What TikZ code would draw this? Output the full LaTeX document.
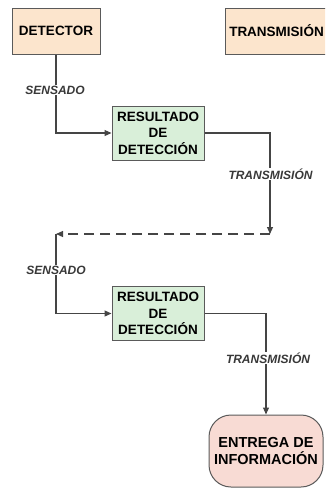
\documentclass[tikz,border=0pt]{standalone}
\usepackage{fontspec}
\setmainfont{Liberation Sans}
\usetikzlibrary{arrows.meta}
\definecolor{peach}{HTML}{FCE5CD}
\definecolor{resgreen}{HTML}{D9EFD9}
\definecolor{pinkish}{HTML}{F8DBD4}
\definecolor{boxline}{HTML}{5A5A5A}
\definecolor{flowline}{HTML}{454545}
\definecolor{labelgray}{HTML}{383838}
\tikzset{
  topbox/.style={draw=boxline, fill=peach, line width=1pt, minimum height=46pt,
    font=\bfseries\fontsize{13.5}{16}\selectfont},
  resbox/.style={draw=boxline, fill=resgreen, line width=1pt, minimum width=92pt,
    minimum height=54pt, align=center, inner sep=2pt,
    font=\bfseries\fontsize{13.5}{16.5}\selectfont},
  entregabox/.style={draw=boxline, fill=pinkish, line width=1pt, rounded corners=22pt,
    minimum width=114pt, minimum height=72pt, align=center,
    font=\bfseries\fontsize{14.5}{16.5}\selectfont},
  flow/.style={draw=flowline, line width=1.1pt, -{Triangle[length=7pt,width=6pt]}},
  lbl/.style={fill=white, text=labelgray, inner sep=1pt,
    font=\bfseries\itshape\fontsize{12}{14}\selectfont}
}
\begin{document}
\begin{tikzpicture}[x=1pt, y=-1pt]
      \path[use as bounding box, clip] (0,0) rectangle (325,490);

      \node[topbox, minimum width=88pt] (detector) at (56,31) {DETECTOR};
      \node[topbox, minimum width=101pt] (transm) at (276.5,31) {TRANSMISIÓN};

      \node[resbox] (res1) at (158,133) {RESULTADO\\DE\\DETECCIÓN};
      \node[resbox] (res2) at (158,313.5) {RESULTADO\\DE\\DETECCIÓN};
      \node[entregabox] (entrega) at (266,451) {ENTREGA DE\\INFORMACIÓN};

      \coordinate (turn) at (270,234);
      \coordinate (back) at (56,234);

      \draw[flow] (detector.south) |- (res1.west);
      \draw[flow] (res1.east) -| (turn);
      \draw[flow, dash pattern=on 10pt off 6pt] (turn) -- (back);
      \draw[flow] (back) |- (res2.west);
      \draw[flow] (res2.east) -| (entrega.north);

      \node[lbl] (sens1) at (55,90) {SENSADO};
      \node[lbl] (tran1) at (270.5,174) {TRANSMISIÓN};
      \node[lbl] (sens2) at (56,270) {SENSADO};
      \node[lbl] (tran2) at (268,358) {TRANSMISIÓN};
    \end{tikzpicture}
\end{document}
